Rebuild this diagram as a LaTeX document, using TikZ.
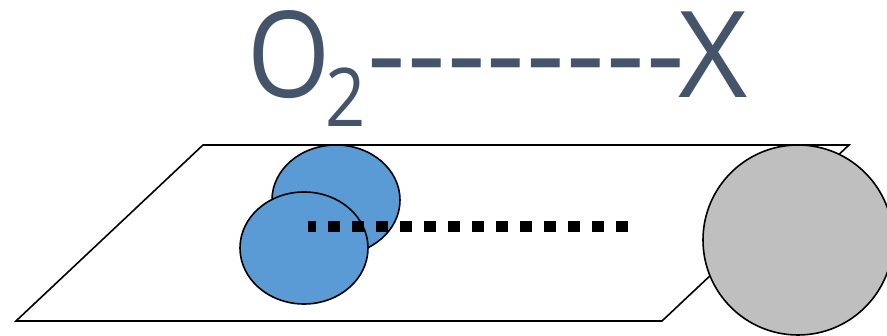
\documentclass[tikz,border=0pt]{standalone}
\usepackage{fontspec}
\newfontfamily\labelfont{Open Sans}
\definecolor{slate}{HTML}{44546A}
\definecolor{oxblue}{HTML}{5B9BD5}
\definecolor{sitegray}{HTML}{BFBFBF}
\tikzset{
  outline/.style={draw=black, line width=1.6pt},
  bond/.style={line width=11pt, dash pattern=on 12pt off 12pt, dash phase=4.3pt},
  big/.style={anchor=base west, inner sep=0, text=slate, font=\labelfont\fontsize{120}{120}\selectfont},
  small/.style={anchor=base west, inner sep=0, text=slate, font=\labelfont\fontsize{81}{81}\selectfont},
}
\newcommand\hy{-\kern1.3pt}
\begin{document}
\begin{tikzpicture}[x=1pt, y=-1pt]
  \useasboundingbox (0,0) rectangle (887,336);
  % surface
  \draw[outline, fill=white, line join=miter] (203,145) -- (849,145) -- (662,321) -- (16,321) -- cycle;
  % adsorbed O2 molecule
  \draw[outline, fill=oxblue] (336,200) ellipse [x radius=64, y radius=55];
  \draw[outline, fill=oxblue] (304,248) ellipse [x radius=64, y radius=56];
  % bond towards the site
  \coordinate (bs) at (308,227);
  \coordinate (be) at (628,227);
  \draw[bond] (bs) -- (be);
  % adsorption site
  \draw[outline, fill=sitegray] (798,240) circle [radius=95];
  % label O2 ------- X
  \node[big] (oxy) at (247.5,98) {\scalebox{0.89}[1]{O}};
  \node[small] (sub) at (325.5,127) {\scalebox{0.87}[1]{2}};
  \node[big] (link) at (367,96) {\hy\hy\hy\hy\hy\hy\hy-};
  \node[big] (target) at (678,98) {X};
\end{tikzpicture}
\end{document}
